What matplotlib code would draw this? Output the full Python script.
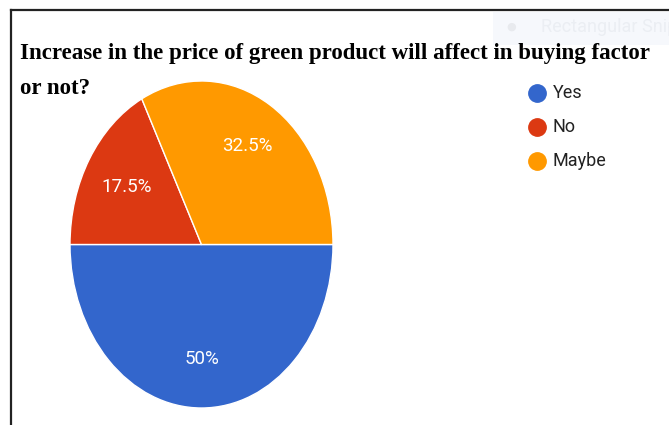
import matplotlib
matplotlib.use("Agg")
import matplotlib.pyplot as plt
from matplotlib.lines import Line2D
from matplotlib.patches import Rectangle

# survey answers
labels = ["Yes", "No", "Maybe"]
shares = [50.0, 17.5, 32.5]
colors = ["#3366CC", "#DC3912", "#FF9900"]
title_lines = ["Increase in the price of green product will affect in buying factor",
               "or not?"]

W, H = 669, 425
fig = plt.figure(figsize=(W / 100, H / 100), dpi=100)
fig.patch.set_facecolor("white")


def fx(px):
    return px / W


def fy(py):
    return 1 - py / H


# faint snipping-tool overlay in the top right corner
fig.patches.append(Rectangle((fx(493), fy(45)), fx(669 - 493), 33 / H,
                             transform=fig.transFigure, facecolor="#f6f8fc",
                             edgecolor="none", zorder=0))
fig.text(fx(511), fy(27), "\u25cf", color="#e8eaee", fontsize=8,
         va="center", ha="center")
fig.text(fx(541), fy(27), "Rectangular Snip", color="#ebeef3", fontsize=13,
         family="Roboto", va="center", ha="left")

# frame lines (top and left)
fig.add_artist(Line2D([fx(11), 1], [fy(10), fy(10)], transform=fig.transFigure,
                      color="#222222", lw=1.6))
fig.add_artist(Line2D([fx(11), fx(11)], [fy(10), 0], transform=fig.transFigure,
                      color="#222222", lw=1.6))

# pie is stretched vertically, so give it a non-square axes
left, right, top, bottom = 70, 333, 81, 408
ax = fig.add_axes([fx(left), fy(bottom), fx(right - left), (bottom - top) / H])
wedges, _ = ax.pie(shares, colors=colors, startangle=0, counterclock=False,
                   radius=1.0, wedgeprops=dict(edgecolor="white", linewidth=1.0))
ax.set_aspect("auto")
ax.set_xlim(-1, 1)
ax.set_ylim(-1, 1)
ax.axis("off")

# percentage labels inside slices
pct_pos = [(0.0, -0.70), (-0.57, 0.35), (0.35, 0.60)]
for (x, y), v in zip(pct_pos, shares):
    txt = f"{v:g}%"
    ax.text(x, y, txt, color="white", fontsize=13.5, family="Roboto",
            ha="center", va="center")

# title
for i, line in enumerate(title_lines):
    fig.text(fx(20), fy(53 + i * 36), line, fontsize=16.5, fontweight="bold",
             family="Liberation Serif", ha="left", va="center", color="black")

# legend
for i, (lab, col) in enumerate(zip(labels, colors)):
    y = fy(93 + i * 34)
    fig.add_artist(Line2D([fx(537)], [y], marker="o", markersize=12.5,
                          color=col, transform=fig.transFigure, lw=0))
    fig.text(fx(553), y, lab, fontsize=13, family="Roboto", color="#222222",
             ha="left", va="center")

fig.savefig("out.png", dpi=100)
